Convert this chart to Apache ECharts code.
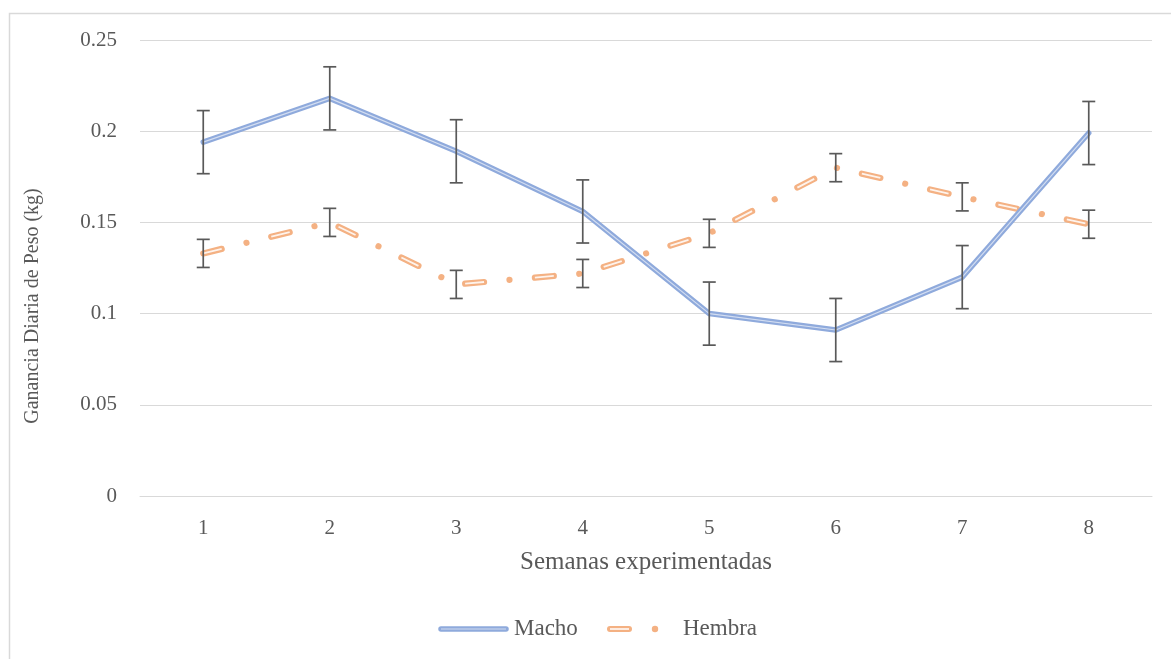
<!DOCTYPE html>
<html>
<head>
<meta charset="utf-8">
<script src="https://cdn.jsdelivr.net/npm/echarts@6/dist/echarts.min.js"></script>
<style>
html,body{margin:0;padding:0;background:#fff;}
#c{width:1171px;height:659px;}
</style>
</head>
<body>
<div id="c"></div>
<script>
var categories = ['1','2','3','4','5','6','7','8'];
var machoValues = [0.194, 0.218, 0.189, 0.156, 0.100, 0.091, 0.120, 0.199];
var machoErrors = [0.0173, 0.0173, 0.0173, 0.0173, 0.0173, 0.0173, 0.0173, 0.0173];
var hembraValues = [0.133, 0.150, 0.116, 0.122, 0.144, 0.180, 0.164, 0.149];
var hembraErrors = [0.0077, 0.0077, 0.0077, 0.0077, 0.0077, 0.0077, 0.0077, 0.0077];
var yTicks = {min: 0, max: 0.25, interval: 0.05};
var seriesNames = ['Macho', 'Hembra'];
var xTitle = 'Semanas experimentadas';
var yTitle = 'Ganancia Diaria de Peso (kg)';

var FONT = '"Liberation Serif", "Times New Roman", serif';
var TXT = '#595959';
var BLUE = '#8FAADC';
var ORANGE = '#F4B183';

function errData(vals, errs) {
  return vals.map(function (v, i) { return [i, v, errs[i]]; });
}
function errRender(params, api) {
  var x = api.value(0), v = api.value(1), e = api.value(2);
  var top = api.coord([x, v + e]);
  var bot = api.coord([x, v - e]);
  var hw = 6.5;
  var st = {stroke: '#595959', lineWidth: 1.7};
  return {
    type: 'group',
    children: [
      {type: 'line', shape: {x1: top[0], y1: top[1], x2: bot[0], y2: bot[1]}, style: st},
      {type: 'line', shape: {x1: top[0] - hw, y1: top[1], x2: top[0] + hw, y2: top[1]}, style: st},
      {type: 'line', shape: {x1: bot[0] - hw, y1: bot[1], x2: bot[0] + hw, y2: bot[1]}, style: st}
    ]
  };
}

var chart = echarts.init(document.getElementById('c'));
var legendY = 629;
chart.setOption({
  animation: false,
  backgroundColor: '#fff',
  grid: {left: 140, right: 19, top: 40, bottom: 163, containLabel: false},
  xAxis: {
    type: 'category',
    data: categories,
    boundaryGap: true,
    axisLine: {show: true, lineStyle: {color: '#D9D9D9', width: 1}},
    axisTick: {show: false},
    axisLabel: {color: TXT, fontFamily: FONT, fontSize: 21, margin: 22},
    name: xTitle,
    nameLocation: 'middle',
    nameGap: 54,
    nameTextStyle: {color: TXT, fontFamily: FONT, fontSize: 25}
  },
  yAxis: {
    type: 'value',
    min: yTicks.min, max: yTicks.max, interval: yTicks.interval,
    axisLine: {show: false},
    axisTick: {show: false},
    splitLine: {lineStyle: {color: '#D9D9D9', width: 1.2}},
    axisLabel: {color: TXT, fontFamily: FONT, fontSize: 21, margin: 23}
  },
  graphic: [
    {type: 'rect', left: 7, top: 11, shape: {x: 0, y: 0, width: 1200, height: 700}, style: {fill: 'none', stroke: '#D9D9D9', lineWidth: 1.5}, silent: true, z: -10},
    {type: 'text', x: 33, y: 306, rotation: Math.PI / 2,
      style: {text: yTitle, fill: TXT, font: '20px ' + FONT, align: 'center', verticalAlign: 'middle'}},
    {type: 'line', shape: {x1: 441, y1: legendY, x2: 506, y2: legendY}, style: {stroke: BLUE, lineWidth: 5.5, lineCap: 'round'}},
    {type: 'line', shape: {x1: 441, y1: legendY, x2: 506, y2: legendY}, style: {stroke: '#fff', lineWidth: 1.2, opacity: 0.6}},
    {type: 'text', x: 514, y: legendY, style: {text: seriesNames[0], fill: TXT, font: '23px ' + FONT, verticalAlign: 'middle'}},
    {type: 'line', shape: {x1: 610, y1: legendY, x2: 629, y2: legendY}, style: {stroke: ORANGE, lineWidth: 6, lineCap: 'round'}},
    {type: 'line', shape: {x1: 610, y1: legendY, x2: 629, y2: legendY}, style: {stroke: '#fff', lineWidth: 1.8, opacity: 0.85}},
    {type: 'circle', shape: {cx: 655, cy: legendY, r: 3.2}, style: {fill: ORANGE}},
    {type: 'text', x: 683, y: legendY, style: {text: seriesNames[1], fill: TXT, font: '23px ' + FONT, verticalAlign: 'middle'}}
  ],
  series: [
    {name: seriesNames[1], type: 'line', data: hembraValues, symbol: 'none', z: 2,
      lineStyle: {color: ORANGE, width: 6.2, type: [19, 25.5, 0.01, 25.5], cap: 'round', join: 'round'}},
    {name: seriesNames[1] + '_inner', type: 'line', data: hembraValues, symbol: 'none', z: 3,
      lineStyle: {color: '#fff', width: 1.8, opacity: 0.85, type: [19, 51.01], cap: 'butt'}},
    {name: seriesNames[0], type: 'line', data: machoValues, symbol: 'none', z: 4,
      lineStyle: {color: BLUE, width: 5.5, cap: 'round', join: 'round'}},
    {name: seriesNames[0] + '_inner', type: 'line', data: machoValues, symbol: 'none', z: 5,
      lineStyle: {color: '#fff', width: 1.2, opacity: 0.6}},
    {type: 'custom', name: 'errH', data: errData(hembraValues, hembraErrors), renderItem: errRender, z: 10, silent: true},
    {type: 'custom', name: 'errM', data: errData(machoValues, machoErrors), renderItem: errRender, z: 10, silent: true}
  ]
});
</script>
</body>
</html>
